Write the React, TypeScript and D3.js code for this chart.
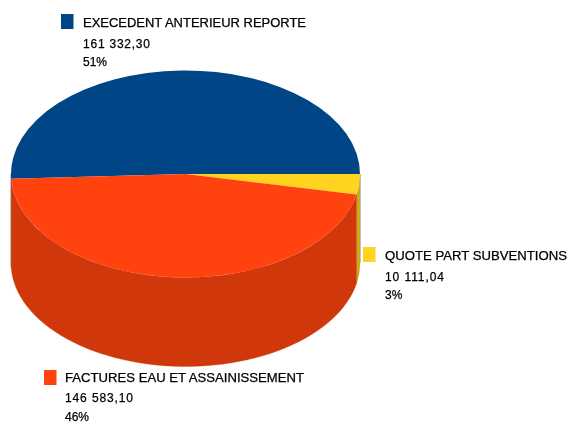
import React from "react";
import * as d3 from "d3";

const names = ["EXECEDENT ANTERIEUR REPORTE", "QUOTE PART SUBVENTIONS", "FACTURES EAU ET ASSAINISSEMENT"];
const values = [161332.3, 10111.04, 146583.1];
const amounts = ["161 332,30", "10 111,04", "146 583,10"];
const percents = ["51%", "3%", "46%"];
const topColors = ["#004586", "#ffd320", "#ff420e"];
const sideColors = ["#00376b", "#cca91a", "#d0380b"];
const legendAt = [
  { sx: 61, sy: 14, tx: 83, y: [27, 47.5, 65.5], w: 223, aw: 67 },
  { sx: 363, sy: 247, tx: 385, y: [260, 280.5, 298.5], w: 182, aw: 59 },
  { sx: 44, sy: 370, tx: 65, y: [382, 401.5, 420.5], w: 239, aw: 68 },
];

const W = 569, H = 423;
const cx = 185.5, cy = 174, rx = 174.5, ry = 103.5, depth = 89;

export default function App() {
  const total = d3.sum(values);
  const blueEnd = Math.PI / 2 + 2 * Math.PI;
  const start = blueEnd - (values[0] / total) * 2 * Math.PI;
  const arcs = d3.pie<number>().sort(null).startAngle(start).endAngle(start + 2 * Math.PI)(values);
  const arc = d3.arc<any>().innerRadius(0).outerRadius(rx);
  const pt = (a: number, dy = 0): [number, number] => [cx + rx * Math.sin(a), cy - ry * Math.cos(a) + dy];
  const line = d3.line();

  const walls = arcs.map((d) => {
    const segs: string[] = [];
    for (const shift of [0, 2 * Math.PI]) {
      const a0 = Math.max(d.startAngle, Math.PI / 2 + shift);
      const a1 = Math.min(d.endAngle, (3 * Math.PI) / 2 + shift);
      if (a1 > a0) {
        const as = d3.range(0, 61).map((i) => a0 + ((a1 - a0) * i) / 60);
        const pts = [...as.map((a) => pt(a)), ...as.slice().reverse().map((a) => pt(a, depth))];
        segs.push(line(pts) + "Z");
      }
    }
    return segs.join("");
  });

  return (
    <svg
      width={W}
      height={H}
      style={{ position: "absolute", left: 0, top: 0, filter: "blur(0.6px)" }}
      fontFamily="'Liberation Sans', Arial, sans-serif"
    >
      <rect width={W} height={H} fill="#fff" />
      {walls.map((p, i) => (
        <path key={i} d={p} fill={sideColors[i]} stroke={sideColors[i]} strokeWidth={0.3} />
      ))}
      <g transform={`translate(${cx},${cy}) scale(1,${ry / rx})`}>
        {arcs.map((d, i) => (
          <path key={i} d={arc(d) as string} fill={topColors[i]} />
        ))}
      </g>
      {names.map((n, i) => {
        const l = legendAt[i];
        return (
          <g key={n} fill="#000" stroke="#000" strokeWidth={0.25} fontSize={12}>
            <rect x={l.sx} y={l.sy} width={12.5} height={15} fill={topColors[i]} stroke="none" />
            <text x={l.tx} y={l.y[0]} textLength={l.w} lengthAdjust="spacingAndGlyphs">{n}</text>
            <text x={l.tx} y={l.y[1]} textLength={l.aw} lengthAdjust="spacing">{amounts[i]}</text>
            <text x={l.tx} y={l.y[2]}>{percents[i]}</text>
          </g>
        );
      })}
    </svg>
  );
}
